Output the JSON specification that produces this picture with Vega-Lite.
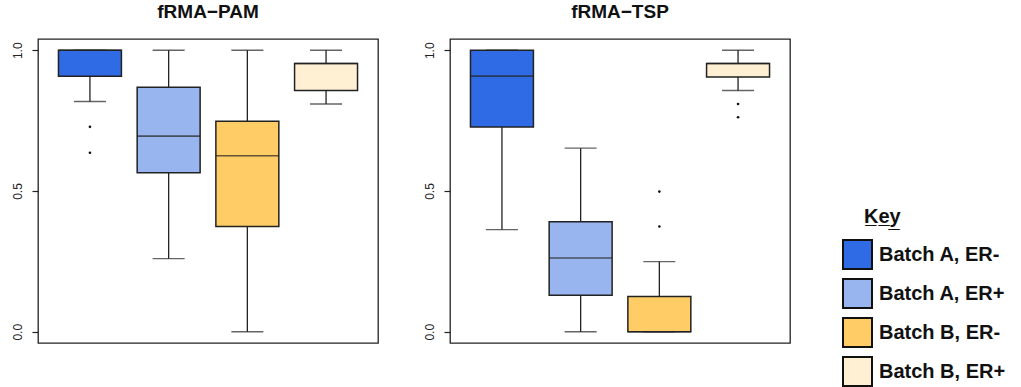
{
  "$schema": "https://vega.github.io/schema/vega-lite/v6.json",
  "background": "white",
  "padding": {"left": 5, "top": 2, "right": 0, "bottom": 0},
  "spacing": 38,
  "config": {
    "font": "Liberation Sans",
    "view": {"stroke": "#222", "strokeWidth": 1.3},
    "title": {"fontSize": 19, "fontWeight": "bold", "color": "#111", "baseline": "alphabetic", "offset": 17, "anchor": "middle"},
    "axisY": {"labelAngle": -90, "labelAlign": "center", "labelBaseline": "bottom", "labelFontSize": 12, "labelColor": "#222", "labelPadding": 8, "tickSize": 6, "tickColor": "#222", "tickWidth": 1.2, "domain": false, "grid": false, "title": null, "minExtent": 32, "maxExtent": 32}
  },
  "datasets": {
    "stats": [
      {"method": "PAM", "group": "Batch A, ER-", "lo": 0.818, "q1": 0.908, "med": 1.0, "q3": 1.0, "hi": 1.0},
      {"method": "PAM", "group": "Batch A, ER+", "lo": 0.26, "q1": 0.565, "med": 0.695, "q3": 0.869, "hi": 1.0},
      {"method": "PAM", "group": "Batch B, ER-", "lo": 0.0, "q1": 0.374, "med": 0.625, "q3": 0.748, "hi": 1.0},
      {"method": "PAM", "group": "Batch B, ER+", "lo": 0.809, "q1": 0.857, "med": 0.953, "q3": 0.953, "hi": 1.0},
      {"method": "TSP", "group": "Batch A, ER-", "lo": 0.363, "q1": 0.727, "med": 0.908, "q3": 1.0, "hi": 1.0},
      {"method": "TSP", "group": "Batch A, ER+", "lo": 0.0, "q1": 0.13, "med": 0.262, "q3": 0.391, "hi": 0.652},
      {"method": "TSP", "group": "Batch B, ER-", "lo": 0.0, "q1": 0.0, "med": 0.0, "q3": 0.125, "hi": 0.249},
      {"method": "TSP", "group": "Batch B, ER+", "lo": 0.857, "q1": 0.905, "med": 0.953, "q3": 0.953, "hi": 1.0}
    ],
    "outliers": [
      {"method": "PAM", "group": "Batch A, ER-", "value": 0.728},
      {"method": "PAM", "group": "Batch A, ER-", "value": 0.636},
      {"method": "TSP", "group": "Batch B, ER-", "value": 0.498},
      {"method": "TSP", "group": "Batch B, ER-", "value": 0.374},
      {"method": "TSP", "group": "Batch B, ER+", "value": 0.809},
      {"method": "TSP", "group": "Batch B, ER+", "value": 0.762}
    ]
  },
  "hconcat": [
    {
      "title": "fRMA−PAM",
      "width": 340,
      "height": 304,
      "encoding": {
        "x": {"field": "group", "type": "nominal", "sort": ["Batch A, ER-", "Batch A, ER+", "Batch B, ER-", "Batch B, ER+"], "scale": {"paddingInner": 0.2, "paddingOuter": 0.26}, "axis": null}
      },
      "layer": [
        {"data": {"name": "stats"}, "transform": [{"filter": "datum.method == 'PAM'"}], "mark": {"type": "rule", "color": "#222", "strokeWidth": 1.3}, "encoding": {"y": {"field": "lo", "type": "quantitative", "scale": {"domain": [-0.04, 1.04], "nice": false, "zero": false}, "axis": {"values": [0, 0.5, 1], "format": ".1f"}}, "y2": {"field": "hi"}}},
        {"data": {"name": "stats"}, "transform": [{"filter": "datum.method == 'PAM'"}], "mark": {"type": "bar", "stroke": "#222", "strokeWidth": 1.5}, "encoding": {"y": {"field": "q1", "type": "quantitative"}, "y2": {"field": "q3"}, "color": {"field": "group", "type": "nominal", "sort": ["Batch A, ER-", "Batch A, ER+", "Batch B, ER-", "Batch B, ER+"], "scale": {"domain": ["Batch A, ER-", "Batch A, ER+", "Batch B, ER-", "Batch B, ER+"], "range": ["#2F6BE4", "#99B5F0", "#FFCC66", "#FFF0D4"]}, "legend": {"orient": "none", "legendX": 804, "legendY": 168, "title": "K̲e̲y̲", "titleFontSize": 20, "titleFontWeight": "bold", "titleColor": "#111", "titlePadding": 12, "symbolType": "square", "symbolSize": 841, "symbolStrokeColor": "#111", "symbolStrokeWidth": 2, "labelFontSize": 20, "labelFontWeight": "bold", "labelColor": "#111", "labelOffset": 6, "rowPadding": 2, "labelLimit": 300, "encoding": {"title": {"dx": {"value": 22}}}}}}},
        {"data": {"name": "stats"}, "transform": [{"filter": "datum.method == 'PAM'"}], "mark": {"type": "tick", "color": "#222", "size": 63, "thickness": 1.6}, "encoding": {"y": {"field": "med", "type": "quantitative"}}},
        {"data": {"name": "stats"}, "transform": [{"filter": "datum.method == 'PAM'"}], "mark": {"type": "tick", "color": "#222", "size": 32, "thickness": 1.3}, "encoding": {"y": {"field": "hi", "type": "quantitative"}}},
        {"data": {"name": "stats"}, "transform": [{"filter": "datum.method == 'PAM'"}], "mark": {"type": "tick", "color": "#222", "size": 32, "thickness": 1.3}, "encoding": {"y": {"field": "lo", "type": "quantitative"}}},
        {"data": {"name": "outliers"}, "transform": [{"filter": "datum.method == 'PAM'"}], "mark": {"type": "point", "filled": true, "color": "#111", "size": 7, "opacity": 1}, "encoding": {"y": {"field": "value", "type": "quantitative"}}}
      ]
    },
    {
      "title": "fRMA−TSP",
      "width": 340,
      "height": 304,
      "encoding": {
        "x": {"field": "group", "type": "nominal", "sort": ["Batch A, ER-", "Batch A, ER+", "Batch B, ER-", "Batch B, ER+"], "scale": {"paddingInner": 0.2, "paddingOuter": 0.26}, "axis": null}
      },
      "layer": [
        {"data": {"name": "stats"}, "transform": [{"filter": "datum.method == 'TSP'"}], "mark": {"type": "rule", "color": "#222", "strokeWidth": 1.3}, "encoding": {"y": {"field": "lo", "type": "quantitative", "scale": {"domain": [-0.04, 1.04], "nice": false, "zero": false}, "axis": {"values": [0, 0.5, 1], "format": ".1f"}}, "y2": {"field": "hi"}}},
        {"data": {"name": "stats"}, "transform": [{"filter": "datum.method == 'TSP'"}], "mark": {"type": "bar", "stroke": "#222", "strokeWidth": 1.5}, "encoding": {"y": {"field": "q1", "type": "quantitative"}, "y2": {"field": "q3"}, "color": {"field": "group", "type": "nominal", "sort": ["Batch A, ER-", "Batch A, ER+", "Batch B, ER-", "Batch B, ER+"], "scale": {"domain": ["Batch A, ER-", "Batch A, ER+", "Batch B, ER-", "Batch B, ER+"], "range": ["#2F6BE4", "#99B5F0", "#FFCC66", "#FFF0D4"]}, "legend": {"orient": "none", "legendX": 804, "legendY": 168, "title": "K̲e̲y̲", "titleFontSize": 20, "titleFontWeight": "bold", "titleColor": "#111", "titlePadding": 12, "symbolType": "square", "symbolSize": 841, "symbolStrokeColor": "#111", "symbolStrokeWidth": 2, "labelFontSize": 20, "labelFontWeight": "bold", "labelColor": "#111", "labelOffset": 6, "rowPadding": 2, "labelLimit": 300, "encoding": {"title": {"dx": {"value": 22}}}}}}},
        {"data": {"name": "stats"}, "transform": [{"filter": "datum.method == 'TSP'"}], "mark": {"type": "tick", "color": "#222", "size": 63, "thickness": 1.6}, "encoding": {"y": {"field": "med", "type": "quantitative"}}},
        {"data": {"name": "stats"}, "transform": [{"filter": "datum.method == 'TSP'"}], "mark": {"type": "tick", "color": "#222", "size": 32, "thickness": 1.3}, "encoding": {"y": {"field": "hi", "type": "quantitative"}}},
        {"data": {"name": "stats"}, "transform": [{"filter": "datum.method == 'TSP'"}], "mark": {"type": "tick", "color": "#222", "size": 32, "thickness": 1.3}, "encoding": {"y": {"field": "lo", "type": "quantitative"}}},
        {"data": {"name": "outliers"}, "transform": [{"filter": "datum.method == 'TSP'"}], "mark": {"type": "point", "filled": true, "color": "#111", "size": 7, "opacity": 1}, "encoding": {"y": {"field": "value", "type": "quantitative"}}}
      ]
    }
  ]
}
